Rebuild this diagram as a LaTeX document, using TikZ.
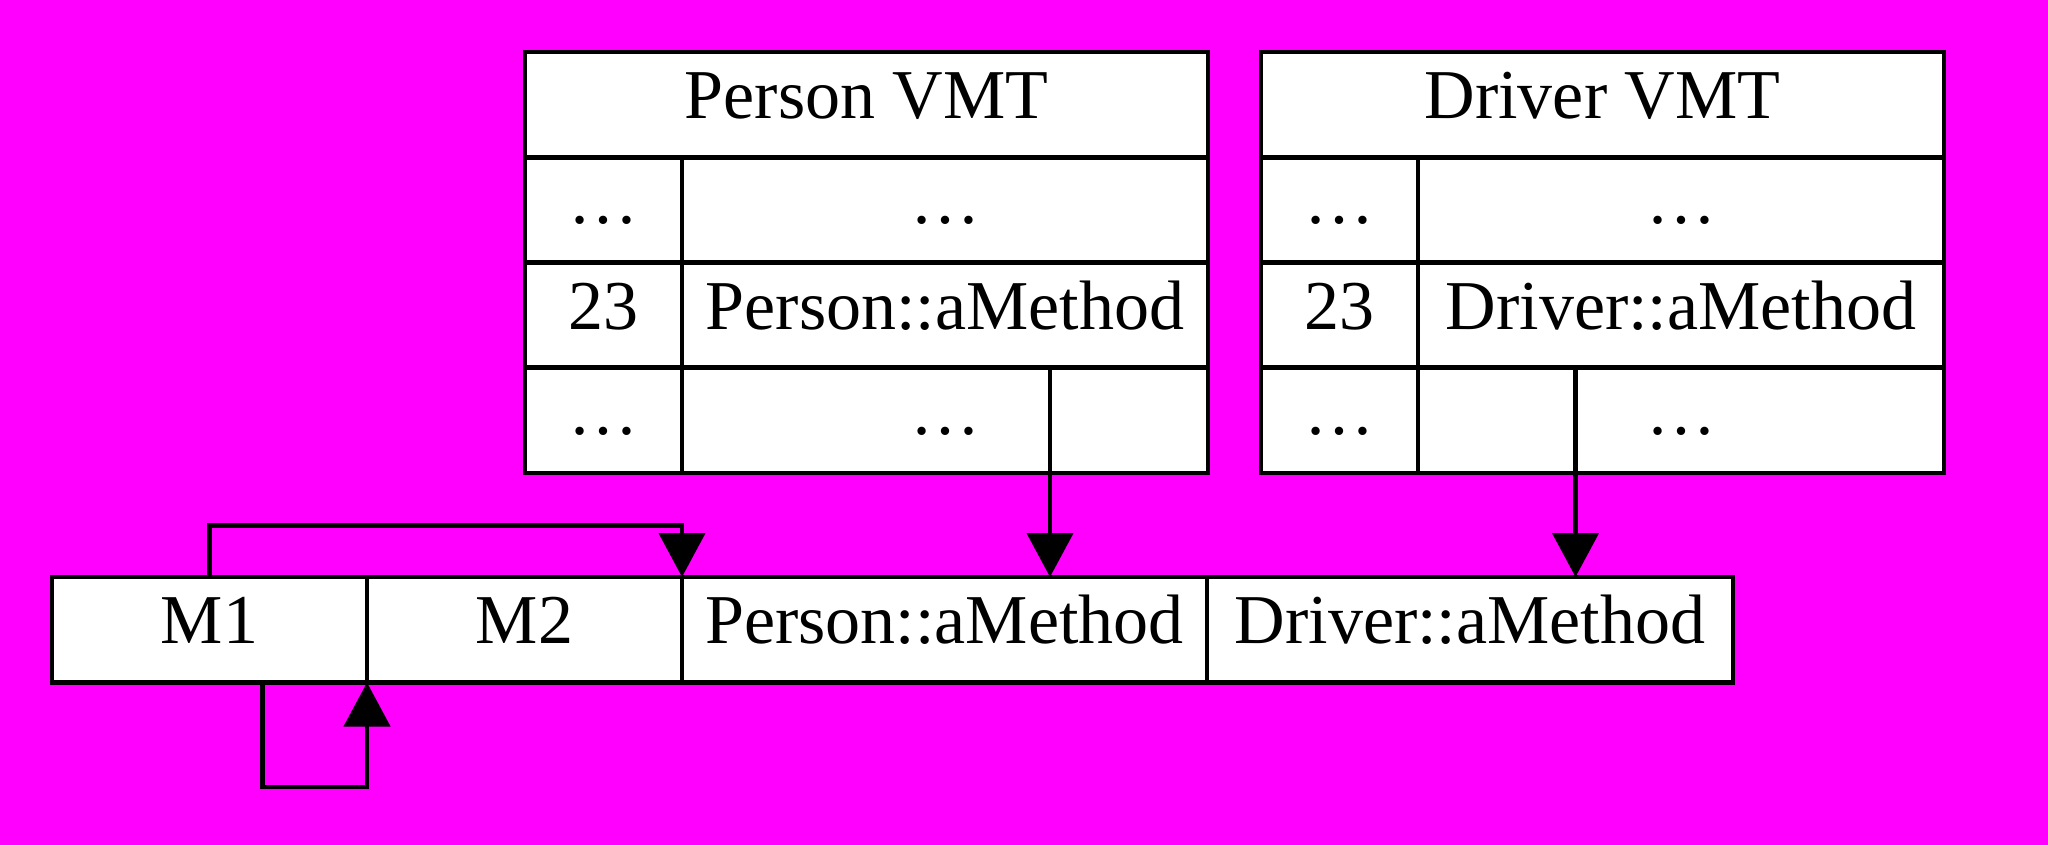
\documentclass[tikz,border=0pt]{standalone}
\usepackage{fontspec}
\setmainfont{Liberation Serif}
\usetikzlibrary{arrows.meta}
\begin{document}
\begin{tikzpicture}[x=0.5pt,y=-0.5pt,
  cell/.style={draw=black, line width=2.3pt, fill=white, inner sep=0pt, outer sep=0pt,
    minimum height=52.625pt, text height=24pt, text depth=10pt,
    font=\fontsize{35}{40}\selectfont},
  conn/.style={line width=2.3pt, line join=miter},
  arr/.style={conn, -{Triangle[length=22pt,width=23pt]}}]
\useasboundingbox (0,0) rectangle (2048,845);
\fill[fill={rgb,255:red,255;green,0;blue,255}] (0,0) rectangle (2048,845);
% Person VMT
\node[cell, minimum width=341.5pt] (ph) at (866.5,104.6) {Person VMT};
\node[cell, minimum width=78.5pt] (p1l) at (603.5,209.9) {…};
\node[cell, minimum width=263pt] (p1r) at (945,209.9) {…};
\node[cell, minimum width=78.5pt] (p2l) at (603.5,315.1) {23};
\node[cell, minimum width=263pt] (p2r) at (945,315.1) {Person::aMethod};
\node[cell, minimum width=78.5pt] (p3l) at (603.5,420.4) {…};
\node[cell, minimum width=263pt] (p3r) at (945,420.4) {…};
% Driver VMT
\node[cell, minimum width=341.5pt] (dh) at (1602.5,104.6) {Driver VMT};
\node[cell, minimum width=78.5pt] (d1l) at (1339.5,209.9) {…};
\node[cell, minimum width=263pt] (d1r) at (1681,209.9) {…};
\node[cell, minimum width=78.5pt] (d2l) at (1339.5,315.1) {23};
\node[cell, minimum width=263pt] (d2r) at (1681,315.1) {Driver::aMethod};
\node[cell, minimum width=78.5pt] (d3l) at (1339.5,420.4) {…};
\node[cell, minimum width=263pt] (d3r) at (1681,420.4) {…};
% bottom row
\node[cell, minimum width=157.5pt, minimum height=52.75pt] (m1) at (209.5,629.75) {M1};
\node[cell, minimum width=157.5pt, minimum height=52.75pt] (m2) at (524.5,629.75) {M2};
\node[cell, minimum width=262.5pt, minimum height=52.75pt] (pm) at (944.5,629.75) {Person::aMethod};
\node[cell, minimum width=263pt, minimum height=52.75pt] (dm) at (1470,629.75) {Driver::aMethod};
% connectors
\coordinate (px) at (1050,0);
\coordinate (dx) at (1575.5,0);
\draw[arr] (p3r.north -| px) -- (pm.north -| px);
\draw[arr] (d3r.north -| dx) -- (dm.north -| dx);
\coordinate (c1) at (682,525.5);
\draw[arr] (m1.north) |- (c1) -- (m2.north east);
\coordinate (c2) at (262.5,787);
\draw[arr] (m1.south -| c2) -- (c2) -| (m2.south west);
\end{tikzpicture}
\end{document}
